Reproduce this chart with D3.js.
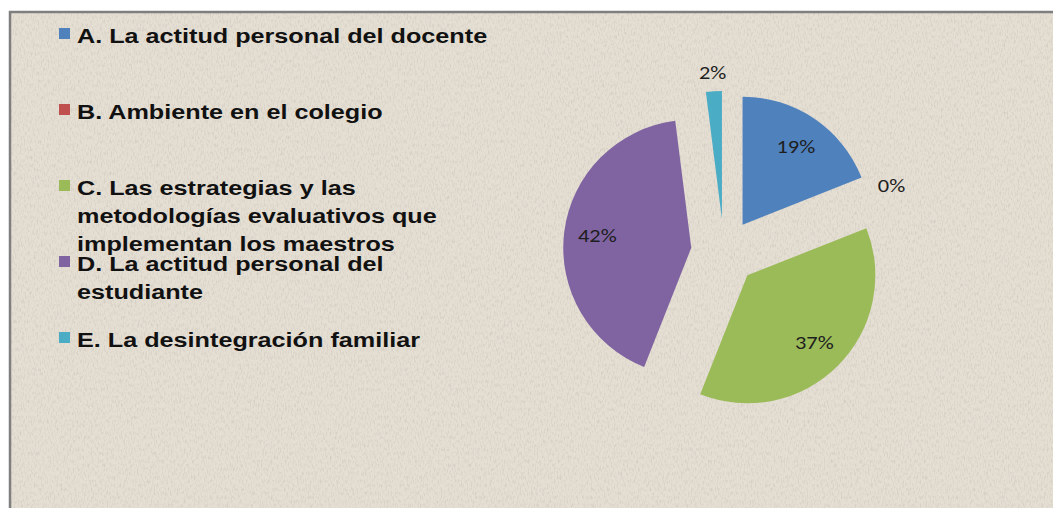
<!DOCTYPE html>
<html>
<head>
<meta charset="utf-8">
<script src="https://cdn.jsdelivr.net/npm/d3@7"></script>
<style>
  html, body { margin: 0; padding: 0; background: #fff; }
  svg { display: block; }
</style>
</head>
<body>
<div id="chart"></div>
<script>
var categories = [
  'A. La actitud personal del docente',
  'B. Ambiente en el colegio',
  'C. Las estrategias y las metodologías evaluativos que implementan los maestros',
  'D. La actitud personal del estudiante',
  'E. La desintegración familiar'
]
var values = [19, 0, 37, 42, 2]
var colors = ['#4F81BD', '#C0504D', '#9BBB59', '#8064A2', '#4BACC6']

var width = 1053, height = 508

var svg = d3.select('#chart').append('svg')
  .attr('width', width)
  .attr('height', height)

// paper texture
var defs = svg.append('defs')
var filter = defs.append('filter')
  .attr('id', 'paper')
  .attr('x', 0).attr('y', 0).attr('width', '100%').attr('height', '100%')
filter.append('feTurbulence')
  .attr('type', 'fractalNoise')
  .attr('baseFrequency', '0.7 0.25')
  .attr('numOctaves', 3)
  .attr('seed', 7)
filter.append('feColorMatrix')
  .attr('type', 'matrix')
  .attr('values', '0 0 0 0 0.5  0 0 0 0 0.47  0 0 0 0 0.42  1.8 0 0 0 -0.82')

svg.append('rect')
  .attr('x', 10).attr('y', 12)
  .attr('width', width).attr('height', height)
  .attr('fill', '#e5ded3')
svg.append('rect')
  .attr('x', 10).attr('y', 12)
  .attr('width', width).attr('height', height)
  .attr('filter', 'url(#paper)')
  .attr('opacity', 0.6)
svg.append('rect')
  .attr('x', 10).attr('y', 12)
  .attr('width', width + 10).attr('height', height + 10)
  .attr('fill', 'none')
  .attr('stroke', '#7f7f7f')
  .attr('stroke-width', 2.5)

// pie
var cx = 724, cy = 252, r = 128, explode = 33
var total = d3.sum(values)

var pie = d3.pie().value(d => d).sort(null)
var arc = d3.arc().innerRadius(0).outerRadius(r)
var slices = pie(values)

function mid(d) { return (d.startAngle + d.endAngle) / 2 }
function dir(a) { return [Math.sin(a), -Math.cos(a)] }
function labelPos(d) {
  var f = d.value / total < 0.05 ? 1.15 : 0.74
  var v = dir(mid(d))
  return [v[0] * r * f, v[1] * r * f]
}

var pieG = svg.append('g').attr('transform', 'translate(' + [cx, cy] + ')')

var slice = pieG.selectAll('g.slice').data(slices).enter().append('g')
  .attr('class', 'slice')
  .attr('transform', d => {
    var v = dir(mid(d))
    return 'translate(' + [v[0] * explode, v[1] * explode] + ')'
  })

slice.append('path')
  .attr('d', arc)
  .attr('fill', (d, i) => colors[i])

slice.append('text')
  .attr('transform', d => 'translate(' + labelPos(d) + ') scale(1.18,1)')
  .attr('text-anchor', 'middle')
  .attr('dominant-baseline', 'central')
  .style('font-family', 'Carlito, Calibri, Lato, sans-serif')
  .style('font-size', '19px')
  .attr('fill', '#1e1e1e')
  .text(d => Math.round(d.value / total * 100) + '%')

// legend
var sx = 1.2
var legend = svg.append('g')
  .style('font-family', '"Liberation Sans", Arial, sans-serif')
  .style('font-weight', 'bold')
  .style('font-size', '21px')
  .attr('fill', '#111')

var wrapWidth = 415 / sx
var measure = legend.append('text')
function wrap(str) {
  var words = str.split(' '), lines = [], cur = ''
  words.forEach(w => {
    var t = cur ? cur + ' ' + w : w
    measure.text(t)
    if (cur && measure.node().getComputedTextLength() > wrapWidth) {
      lines.push(cur)
      cur = w
    } else cur = t
  })
  lines.push(cur)
  return lines
}

var item = legend.selectAll('g.item').data(categories).enter().append('g')
  .attr('class', 'item')
  .attr('transform', (d, i) => 'translate(0,' + (28 + 76 * i) + ')')

item.append('rect')
  .attr('x', 59).attr('y', 0)
  .attr('width', 11).attr('height', 11)
  .attr('fill', (d, i) => colors[i])

item.append('text')
  .attr('transform', 'translate(77,15) scale(' + sx + ',1)')
  .selectAll('tspan').data(d => wrap(d)).enter().append('tspan')
  .attr('x', 0)
  .attr('dy', (d, i) => i ? 28 : 0)
  .text(d => d)

measure.remove()
</script>
</body>
</html>
